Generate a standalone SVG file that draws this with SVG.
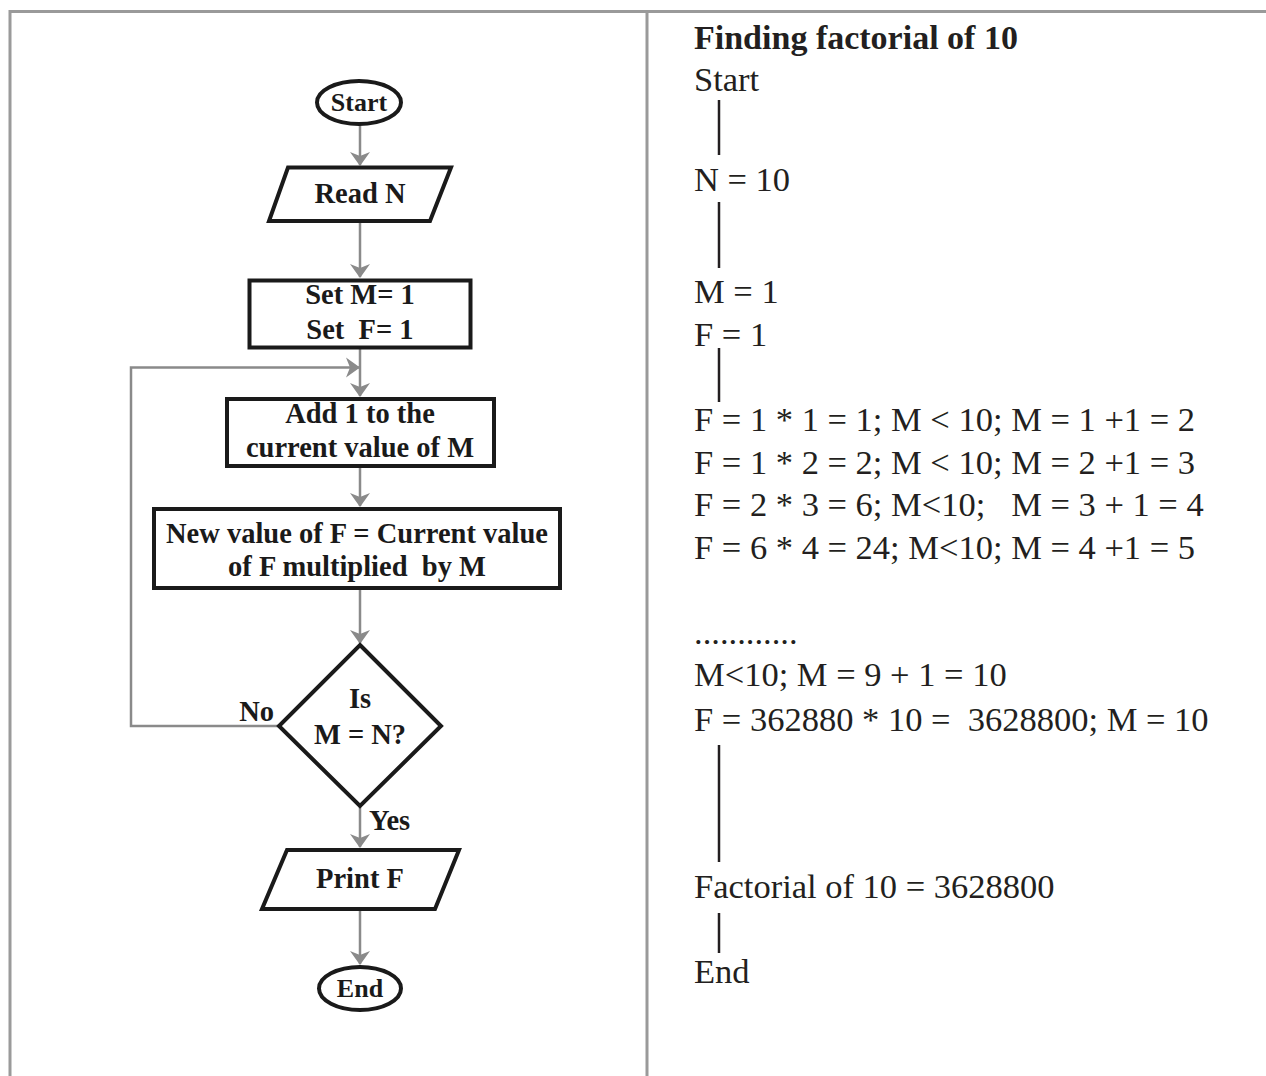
<svg xmlns="http://www.w3.org/2000/svg" width="1266" height="1076" viewBox="0 0 1266 1076">
<style>
.frame{stroke:#9a9a9a;stroke-width:3;fill:none}
.shape{fill:#fff;stroke:#1a1a1a;stroke-width:4}
.conn{stroke:#8a8a8a;stroke-width:2.5;fill:none}
.lbl{font-family:"Liberation Serif","DejaVu Serif",serif;font-weight:bold;font-size:28.5px;fill:#1a1a1a;text-anchor:middle;white-space:pre}
.term{font-size:26px}
.side{font-family:"Liberation Serif","DejaVu Serif",serif;font-weight:bold;font-size:28.5px;fill:#1a1a1a;white-space:pre}
.rt{font-family:"Liberation Serif","DejaVu Serif",serif;font-size:34.5px;fill:#231f20;white-space:pre}
.rtitle{font-family:"Liberation Serif","DejaVu Serif",serif;font-weight:bold;font-size:34px;fill:#231f20}
.bar{stroke:#231f20;stroke-width:2.5}
</style>
<defs>
<marker id="ah" markerUnits="userSpaceOnUse" markerWidth="24" markerHeight="24" viewBox="-16 -12 18 24" refX="0" refY="0" orient="auto">
<path d="M1,0 L-13,-10 L-9,0 L-13,10 Z" fill="#8a8a8a"/>
</marker>
</defs>
<rect width="1266" height="1076" fill="#fff"/>
<g id="frame">
<line class="frame" x1="10" y1="11.5" x2="1266" y2="11.5"/>
<line class="frame" x1="10" y1="10" x2="10" y2="1076"/>
<line class="frame" x1="647" y1="11.5" x2="647" y2="1076"/>
</g>
<g id="connectors">
<line class="conn" x1="360" y1="125" x2="360" y2="165" marker-end="url(#ah)"/>
<line class="conn" x1="360" y1="223" x2="360" y2="277" marker-end="url(#ah)"/>
<line class="conn" x1="360" y1="349" x2="360" y2="396" marker-end="url(#ah)"/>
<line class="conn" x1="360" y1="468" x2="360" y2="506" marker-end="url(#ah)"/>
<line class="conn" x1="360" y1="590" x2="360" y2="643" marker-end="url(#ah)"/>
<polyline class="conn" points="279,726 131,726 131,367.5 359,367.5" marker-end="url(#ah)"/>
<line class="conn" x1="360" y1="807" x2="360" y2="847" marker-end="url(#ah)"/>
<line class="conn" x1="360" y1="911" x2="360" y2="964" marker-end="url(#ah)"/>
<text class="side" x="274" y="721" text-anchor="end">No</text>
<text class="side" x="369" y="830">Yes</text>
</g>
<g id="start">
<ellipse class="shape" cx="359" cy="102.5" rx="42" ry="21.5"/>
<text class="lbl term" x="359" y="111">Start</text>
</g>
<g id="read">
<polygon class="shape" points="288,167.5 451,167.5 430,221 269,221"/>
<text class="lbl" x="360" y="203">Read N</text>
</g>
<g id="set">
<rect class="shape" x="249.5" y="280.5" width="221" height="67"/>
<text class="lbl" x="360" y="304">Set M= 1</text>
<text class="lbl" x="360" y="339">Set  F= 1</text>
</g>
<g id="add">
<rect class="shape" x="227" y="399" width="267" height="67"/>
<text class="lbl" x="360" y="423">Add 1 to the</text>
<text class="lbl" x="360" y="457">current value of M</text>
</g>
<g id="multiply">
<rect class="shape" x="154" y="509" width="406" height="79"/>
<text class="lbl" x="357" y="543">New value of F = Current value</text>
<text class="lbl" x="357" y="576">of F multiplied  by M</text>
</g>
<g id="decision">
<polygon class="shape" points="360,645 441,726 360,806 279,726"/>
<text class="lbl" x="360" y="708">Is</text>
<text class="lbl" x="360" y="744">M = N?</text>
</g>
<g id="print">
<polygon class="shape" points="287,850 459,850 435,909 262,909"/>
<text class="lbl" x="360" y="888">Print F</text>
</g>
<g id="end">
<ellipse class="shape" cx="360" cy="988.5" rx="41" ry="21.5"/>
<text class="lbl term" x="360" y="997">End</text>
</g>
<g id="trace">
<text class="rtitle" x="694" y="49">Finding factorial of 10</text>
<text class="rt" x="694" y="91">Start</text>
<line class="bar" x1="719" y1="100" x2="719" y2="155"/>
<text class="rt" x="694" y="191">N = 10</text>
<line class="bar" x1="719" y1="202" x2="719" y2="268"/>
<text class="rt" x="694" y="303">M = 1</text>
<text class="rt" x="694" y="346">F = 1</text>
<line class="bar" x1="719" y1="348" x2="719" y2="402"/>
<text class="rt" x="694" y="431">F = 1 * 1 = 1; M &lt; 10; M = 1 +1 = 2</text>
<text class="rt" x="694" y="474">F = 1 * 2 = 2; M &lt; 10; M = 2 +1 = 3</text>
<text class="rt" x="694" y="516">F = 2 * 3 = 6; M&lt;10;   M = 3 + 1 = 4</text>
<text class="rt" x="694" y="559">F = 6 * 4 = 24; M&lt;10; M = 4 +1 = 5</text>
<text class="rt" x="694" y="644">............</text>
<text class="rt" x="694" y="686">M&lt;10; M = 9 + 1 = 10</text>
<text class="rt" x="694" y="731">F = 362880 * 10 =  3628800; M = 10</text>
<line class="bar" x1="719" y1="745" x2="719" y2="862"/>
<text class="rt" x="694" y="898">Factorial of 10 = 3628800</text>
<line class="bar" x1="719" y1="913" x2="719" y2="953"/>
<text class="rt" x="694" y="983">End</text>
</g>
</svg>
